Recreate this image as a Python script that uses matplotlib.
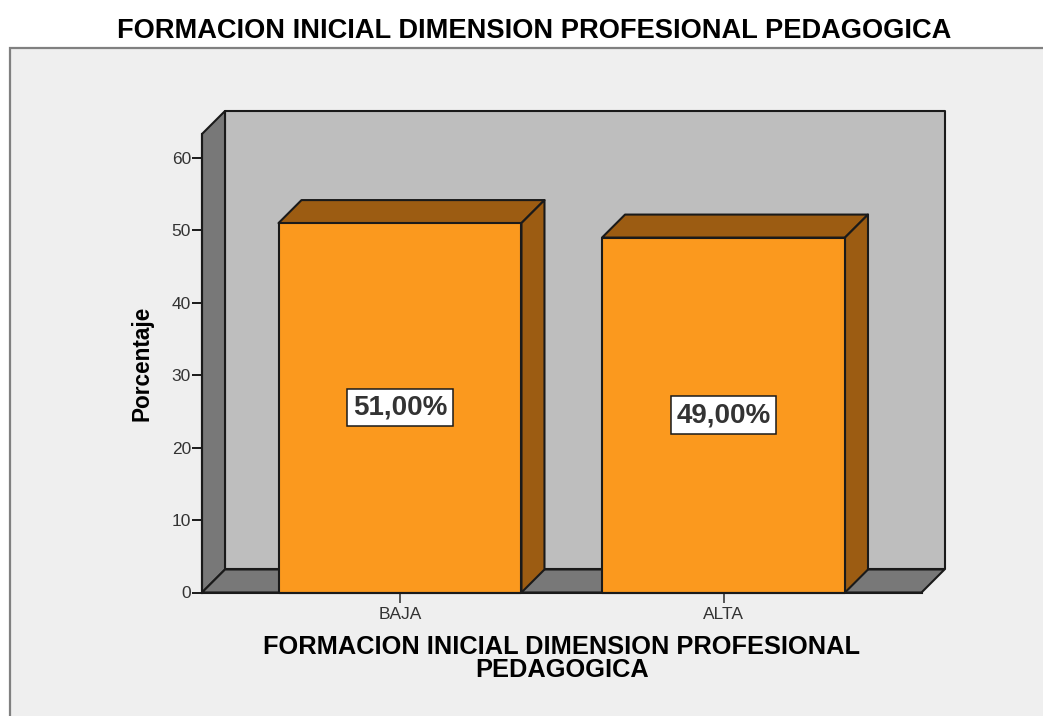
import matplotlib
matplotlib.use("Agg")
import matplotlib.pyplot as plt
from matplotlib.patches import Polygon, Rectangle

plt.rcParams['font.family'] = ['Liberation Sans', 'DejaVu Sans']

# --- data ---
categories = ['BAJA', 'ALTA']
percentages = [51.0, 49.0]
y_ticks = [0, 10, 20, 30, 40, 50, 60]

chart_title = 'FORMACION INICIAL DIMENSION PROFESIONAL PEDAGOGICA'
x_title = 'FORMACION INICIAL DIMENSION PROFESIONAL\nPEDAGOGICA'
y_title = 'Porcentaje'

# --- colours ---
panel_bg = '#EFEFEF'
wall_back = '#BEBEBE'
wall_side = '#787878'
bar_front = '#FB991E'
bar_dark = '#9C5C12'
edge = '#1A1A1A'
tick_text = '#333333'

W, H = 1043, 716
fig = plt.figure(figsize=(W / 100, H / 100), dpi=100, facecolor='white')

# outer grey panel, runs off the right and bottom of the picture
fig.add_artist(Rectangle((9.5 / W, -0.05), 1.1, 1 - 48 / H + 0.05, transform=fig.transFigure,
                         facecolor=panel_bg, edgecolor='#808080', linewidth=1.6, zorder=-1))

# axes = front plane of the 3D box
ax = fig.add_axes([202 / W, 1 - 592.5 / H, (921.5 - 202) / W, (592.5 - 134) / H])
ax.patch.set_visible(False)
x_lo, x_hi = -0.612, 1.612
y_top = 63.3
ax.set_xlim(x_lo, x_hi)
ax.set_ylim(0, y_top)

# depth of the 3D effect, in data units (23 px each way)
dx = 23 / 323.5
dy = 23 / 7.24
bar_w = 0.751


def face(pts, color, z):
    ax.add_patch(Polygon(pts, closed=True, facecolor=color, edgecolor=edge, linewidth=1.5,
                         joinstyle='round', clip_on=False, zorder=z))


# walls and floor
face([(x_lo + dx, dy), (x_hi + dx, dy), (x_hi + dx, y_top + dy), (x_lo + dx, y_top + dy)], wall_back, 1)
face([(x_lo, 0), (x_lo + dx, dy), (x_lo + dx, y_top + dy), (x_lo, y_top)], wall_side, 1.1)
face([(x_lo, 0), (x_hi, 0), (x_hi + dx, dy), (x_lo + dx, dy)], wall_side, 1.1)

# bars
for i, v in enumerate(percentages):
    l, r = i - bar_w / 2, i + bar_w / 2
    face([(l, v), (r, v), (r + dx, v + dy), (l + dx, v + dy)], bar_dark, 2)
    face([(r, 0), (r + dx, dy), (r + dx, v + dy), (r, v)], bar_dark, 2)
    face([(l, 0), (r, 0), (r, v), (l, v)], bar_front, 3)
    ax.text(i, v / 2, f'{v:.2f}%'.replace('.', ','), ha='center', va='center', fontsize=20,
            fontweight='bold', color=tick_text, zorder=5,
            bbox=dict(boxstyle='square,pad=0.2', facecolor='white', edgecolor=edge, linewidth=1.1))

for s in ['top', 'right']:
    ax.spines[s].set_visible(False)
for s in ['left', 'bottom']:
    ax.spines[s].set_linewidth(1.5)
    ax.spines[s].set_color(edge)
    ax.spines[s].set_zorder(4)

ax.set_yticks(y_ticks)
ax.set_xticks(range(len(categories)))
ax.set_xticklabels(categories)
ax.tick_params(axis='y', length=7, width=1.4, color=edge, labelcolor=tick_text, labelsize=12.5, pad=1)
ax.tick_params(axis='x', length=7.5, width=1.4, color='#555555', labelcolor=tick_text, labelsize=12.5, pad=3)

ax.set_ylabel(y_title, fontsize=16.3, fontweight='bold', color='black', labelpad=13)
ax.set_xlabel(x_title, fontsize=18.3, fontweight='bold', color='black', labelpad=9, linespacing=0.95)

fig.text(534.5 / W, 1 - 31 / H, chart_title, ha='center', va='center', fontsize=19.6,
         fontweight='bold', color='black')

fig.savefig('out.png', dpi=100)
